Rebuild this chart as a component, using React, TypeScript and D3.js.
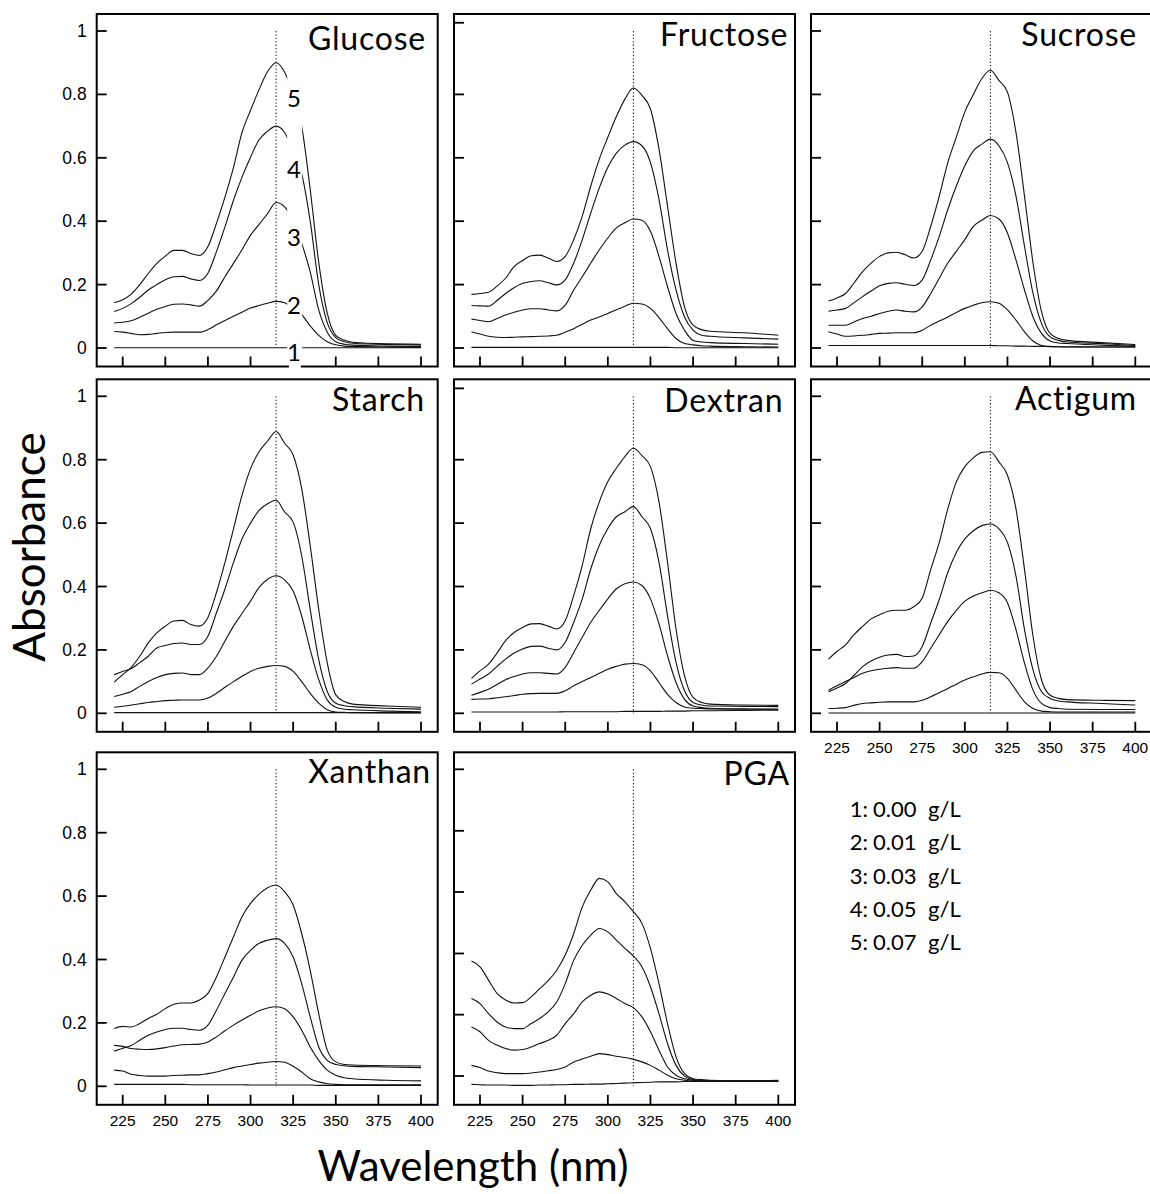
import React from 'react';
import * as d3 from 'd3';

// ---------- DATA ----------
const wavelengths = [220,225,230,235,240,245,250,255,260,265,270,275,280,285,290,295,300,305,310,315,320,325,330,335,340,345,350,355,360,380,400];

// Glucose
const g1 = [0.001,0.001,0.001,0.001,0.001,0.001, 0.001,0.001,0.001,0.001,0.001,0.001, 0.001,0.001,0.001,0.001,0.001,0.001, 0.001,0.001,0.001,0.001,0.001,0.001, 0.001,0.001,0.001,0.001,0.001, 0.001,0.001];
const g2 = [0.052,0.050,0.046,0.042,0.043,0.046, 0.049,0.050,0.050,0.050,0.050,0.058, 0.073,0.087,0.100,0.113,0.126,0.134, 0.141,0.147,0.143,0.125,0.105,0.070, 0.040,0.020,0.010,0.006,0.005, 0.003,0.002];
const g3 = [0.079,0.081,0.086,0.097,0.110,0.122, 0.131,0.138,0.139,0.136,0.132,0.150, 0.180,0.225,0.267,0.310,0.356,0.390, 0.424,0.459,0.445,0.400,0.330,0.240, 0.120,0.050,0.020,0.012,0.009, 0.006,0.005];
const g4 = [0.115,0.125,0.140,0.160,0.183,0.200, 0.215,0.225,0.226,0.218,0.213,0.236, 0.304,0.382,0.466,0.539,0.602,0.657, 0.684,0.700,0.680,0.620,0.550,0.400, 0.200,0.080,0.033,0.020,0.015, 0.011,0.010];
const g5 = [0.143,0.152,0.170,0.200,0.235,0.267, 0.290,0.308,0.308,0.298,0.292,0.320, 0.393,0.476,0.570,0.680,0.750,0.815, 0.872,0.900,0.870,0.800,0.700,0.500, 0.270,0.110,0.040,0.025,0.018, 0.013,0.012];

// Fructose
const f1 = [0.002,0.002,0.002,0.002,0.002,0.002, 0.002,0.002,0.002,0.002,0.002,0.002, 0.002,0.002,0.002,0.002,0.002,0.002, 0.002,0.002,0.002,0.002,0.002,0.002, 0.001,0.001,0.001,0.001,0.001, 0.001,0.001];
const f2 = [0.051,0.044,0.037,0.034,0.033,0.034, 0.035,0.036,0.037,0.038,0.040,0.050, 0.061,0.075,0.088,0.098,0.109,0.121, 0.132,0.141,0.139,0.125,0.096,0.061, 0.030,0.014,0.010,0.007,0.006, 0.004,0.003];
const f3 = [0.091,0.087,0.083,0.093,0.104,0.113, 0.120,0.124,0.124,0.120,0.117,0.135, 0.183,0.225,0.268,0.310,0.347,0.379, 0.395,0.407,0.403,0.368,0.289,0.194, 0.109,0.056,0.024,0.019,0.017, 0.014,0.012];
const f4 = [0.134,0.133,0.132,0.150,0.172,0.190, 0.204,0.210,0.212,0.206,0.199,0.215, 0.268,0.342,0.426,0.505,0.570,0.615, 0.640,0.651,0.638,0.585,0.469,0.310, 0.183,0.098,0.056,0.040,0.037, 0.032,0.028];
const f5 = [0.169,0.172,0.176,0.195,0.220,0.257, 0.276,0.291,0.293,0.284,0.273,0.289, 0.342,0.416,0.511,0.596,0.665,0.730, 0.785,0.820,0.797,0.754,0.628,0.448, 0.268,0.130,0.072,0.058,0.053, 0.048,0.040];

// Sucrose
const s1 = [0.008,0.008,0.008,0.008,0.008,0.008, 0.008,0.008,0.008,0.008,0.008,0.008, 0.008,0.008,0.008,0.008,0.008,0.008, 0.008,0.008,0.007,0.007,0.006,0.006, 0.005,0.005,0.004,0.004,0.004, 0.003,0.003];
const s2 = [0.051,0.044,0.037,0.038,0.040,0.043, 0.046,0.047,0.048,0.048,0.048,0.056, 0.072,0.085,0.098,0.112,0.125,0.135, 0.143,0.146,0.141,0.120,0.088,0.051, 0.022,0.008,0.005,0.004,0.003, 0.003,0.003];
const s3 = [0.072,0.072,0.072,0.082,0.093,0.100, 0.109,0.116,0.120,0.116,0.114,0.130, 0.172,0.220,0.268,0.305,0.342,0.384, 0.403,0.418,0.407,0.363,0.278,0.183, 0.098,0.046,0.022,0.016,0.014, 0.009,0.005];
const s4 = [0.116,0.120,0.125,0.143,0.162,0.180, 0.196,0.204,0.206,0.201,0.197,0.215, 0.278,0.352,0.437,0.511,0.575,0.622, 0.643,0.659,0.638,0.585,0.479,0.321, 0.172,0.077,0.035,0.024,0.019, 0.014,0.008];
const s5 = [0.148,0.158,0.172,0.205,0.241,0.268, 0.289,0.300,0.302,0.294,0.284,0.305, 0.384,0.479,0.585,0.665,0.745,0.800, 0.850,0.876,0.844,0.807,0.680,0.479, 0.268,0.114,0.046,0.030,0.024, 0.017,0.011];

// Starch
const st1 = [0.002,0.002,0.002,0.002,0.002,0.002, 0.002,0.002,0.002,0.002,0.002,0.002, 0.002,0.002,0.002,0.002,0.002,0.002, 0.002,0.002,0.002,0.002,0.002,0.002, 0.002,0.002,0.002,0.002,0.002, 0.002,0.002];
const st2 = [0.019,0.022,0.026,0.030,0.034,0.037, 0.040,0.041,0.042,0.042,0.042,0.048, 0.063,0.082,0.100,0.117,0.132,0.142, 0.148,0.151,0.148,0.132,0.100,0.063, 0.032,0.011,0.004,0.003,0.002, 0.001,0.001];
const st3 = [0.053,0.060,0.069,0.085,0.100,0.113, 0.122,0.126,0.127,0.122,0.122,0.143, 0.180,0.228,0.275,0.315,0.354,0.397, 0.423,0.434,0.421,0.386,0.307,0.201, 0.106,0.042,0.019,0.013,0.011, 0.007,0.005];
const st4 = [0.122,0.132,0.141,0.160,0.180,0.206, 0.214,0.220,0.222,0.217,0.217,0.243, 0.317,0.392,0.476,0.550,0.600,0.640, 0.661,0.672,0.635,0.603,0.497,0.328, 0.169,0.069,0.032,0.024,0.021, 0.016,0.013];
const st5 = [0.098,0.122,0.145,0.180,0.222,0.254, 0.275,0.291,0.293,0.280,0.275,0.302, 0.381,0.476,0.582,0.688,0.772,0.825, 0.859,0.889,0.852,0.815,0.709,0.529, 0.328,0.159,0.058,0.037,0.029, 0.023,0.019];

// Dextran
const d1 = [0.004,0.004,0.004,0.004,0.004,0.004, 0.004,0.004,0.004,0.004,0.004,0.005, 0.005,0.005,0.005,0.005,0.005,0.005, 0.006,0.006,0.006,0.006,0.006,0.007, 0.007,0.007,0.008,0.008,0.008, 0.009,0.010];
const d2 = [0.044,0.045,0.046,0.049,0.052,0.056, 0.060,0.062,0.063,0.063,0.063,0.071, 0.087,0.100,0.113,0.126,0.139,0.148, 0.155,0.157,0.153,0.134,0.097,0.060, 0.034,0.020,0.016,0.015,0.014, 0.013,0.013];
const d3v = [0.057,0.066,0.076,0.091,0.106,0.116, 0.124,0.128,0.128,0.126,0.124,0.145, 0.192,0.240,0.287,0.325,0.361,0.393, 0.409,0.414,0.403,0.361,0.282,0.182, 0.097,0.044,0.023,0.018,0.016, 0.014,0.013];
const d4 = [0.092,0.108,0.124,0.148,0.171,0.190, 0.203,0.211,0.212,0.205,0.200,0.224, 0.287,0.361,0.456,0.530,0.583,0.620, 0.636,0.652,0.620,0.583,0.477,0.308, 0.161,0.071,0.034,0.026,0.023, 0.022,0.021];
const d5 = [0.110,0.134,0.155,0.190,0.229,0.255, 0.271,0.282,0.283,0.275,0.266,0.292, 0.372,0.467,0.583,0.667,0.731,0.773, 0.810,0.836,0.813,0.778,0.667,0.477, 0.266,0.118,0.050,0.034,0.029, 0.026,0.025];

// Actigum
const a1 = [0.001,0.001,0.001,0.001,0.001,0.001, 0.001,0.001,0.001,0.001,0.001,0.001, 0.001,0.001,0.001,0.001,0.001,0.001, 0.001,0.001,0.001,0.001,0.001,0.001, 0.001,0.001,0.001,0.001,0.001, 0.001,0.001];
const a2 = [0.015,0.016,0.018,0.025,0.031,0.033, 0.035,0.036,0.036,0.036,0.036,0.041, 0.052,0.065,0.078,0.092,0.105,0.115, 0.124,0.129,0.128,0.110,0.073,0.036, 0.015,0.007,0.005,0.004,0.004, 0.004,0.004];
const a3 = [0.073,0.087,0.100,0.113,0.126,0.134, 0.139,0.142,0.144,0.142,0.142,0.163, 0.205,0.248,0.290,0.325,0.354,0.370, 0.380,0.388,0.380,0.349,0.264,0.158, 0.073,0.031,0.018,0.015,0.013, 0.012,0.012];
const a4 = [0.068,0.080,0.094,0.120,0.147,0.165, 0.177,0.184,0.186,0.179,0.181,0.211, 0.285,0.359,0.444,0.507,0.550,0.576, 0.592,0.597,0.582,0.539,0.433,0.264, 0.137,0.068,0.047,0.039,0.036, 0.031,0.026];
const a5 = [0.171,0.195,0.216,0.248,0.274,0.298, 0.311,0.322,0.325,0.325,0.336,0.364, 0.454,0.539,0.645,0.730,0.778,0.806, 0.823,0.825,0.793,0.751,0.645,0.454, 0.243,0.105,0.057,0.047,0.043, 0.041,0.040];

// Xanthan
const x1 = [0.006,0.006,0.006,0.006,0.006,0.006, 0.006,0.006,0.006,0.005,0.005,0.005, 0.005,0.005,0.005,0.005,0.004,0.004, 0.004,0.004,0.004,0.004,0.004,0.004, 0.003,0.003,0.003,0.003,0.003, 0.003,0.003];
const x2 = [0.051,0.048,0.038,0.034,0.032,0.032, 0.032,0.034,0.035,0.036,0.036,0.040, 0.045,0.052,0.059,0.064,0.069,0.073, 0.076,0.078,0.076,0.063,0.045,0.024, 0.014,0.008,0.006,0.005,0.005, 0.005,0.005];
const x3 = [0.129,0.126,0.119,0.117,0.116,0.118, 0.122,0.127,0.131,0.132,0.133,0.140, 0.156,0.175,0.193,0.209,0.224,0.238, 0.247,0.251,0.245,0.219,0.177,0.124, 0.082,0.051,0.035,0.027,0.024, 0.019,0.017];
const x4 = [0.111,0.120,0.129,0.145,0.161,0.171, 0.179,0.183,0.183,0.179,0.177,0.193, 0.240,0.293,0.345,0.398,0.429,0.451, 0.461,0.466,0.451,0.408,0.324,0.219, 0.124,0.082,0.069,0.065,0.063, 0.061,0.059];
const x5 = [0.182,0.189,0.187,0.198,0.214,0.227, 0.245,0.259,0.263,0.263,0.272,0.293, 0.345,0.408,0.472,0.535,0.577,0.606, 0.626,0.635,0.614,0.572,0.482,0.366, 0.229,0.114,0.077,0.069,0.067, 0.065,0.064];

// PGA
const p1 = [0.006,0.005,0.004,0.004,0.004,0.003, 0.003,0.003,0.004,0.004,0.005,0.005, 0.006,0.006,0.007,0.007,0.008,0.009, 0.010,0.011,0.012,0.013,0.014,0.014, 0.014,0.015,0.015,0.016,0.016, 0.016,0.016];
const p2 = [0.066,0.059,0.048,0.043,0.040,0.040, 0.040,0.042,0.045,0.049,0.053,0.061, 0.077,0.086,0.095,0.103,0.100,0.095, 0.091,0.085,0.077,0.066,0.051,0.035, 0.024,0.019,0.017,0.017,0.017, 0.017,0.017];
const p3 = [0.187,0.172,0.145,0.130,0.119,0.114, 0.116,0.124,0.135,0.145,0.161,0.198, 0.229,0.266,0.287,0.298,0.291,0.277, 0.261,0.248,0.219,0.172,0.114,0.061, 0.035,0.024,0.019,0.017,0.016, 0.016,0.016];
const p4 = [0.277,0.261,0.229,0.203,0.187,0.182, 0.182,0.198,0.214,0.235,0.266,0.324, 0.398,0.445,0.477,0.498,0.487,0.461, 0.435,0.411,0.377,0.314,0.229,0.135, 0.066,0.032,0.021,0.018,0.017, 0.016,0.016];
const p5 = [0.395,0.377,0.335,0.293,0.272,0.263, 0.264,0.282,0.308,0.333,0.366,0.414, 0.482,0.566,0.619,0.656,0.645,0.608, 0.582,0.551,0.514,0.435,0.324,0.198, 0.093,0.040,0.024,0.021,0.019, 0.017,0.019];

const panelNames = ['Glucose', 'Fructose', 'Sucrose', 'Starch', 'Dextran', 'Actigum', 'Xanthan', 'PGA'];
const panelSeries = [
  [g1, g2, g3, g4, g5],
  [f1, f2, f3, f4, f5],
  [s1, s2, s3, s4, s5],
  [st1, st2, st3, st4, st5],
  [d1, d2, d3v, d4, d5],
  [a1, a2, a3, a4, a5],
  [x1, x2, x3, x4, x5],
  [p1, p2, p3, p4, p5],
];

const xTicks = [225, 250, 275, 300, 325, 350, 375, 400];
const yTicks = [0, 0.2, 0.4, 0.6, 0.8, 1];
const yTickLabels = ['0', '0.2', '0.4', '0.6', '0.8', '1'];
// unlabeled tick marks of the middle column, as drawn in the source
const yTickMarks: Record<string, number[]> = {
  Fructose: [0, 0.2, 0.4, 0.6, 0.8, 1.026],
  Dextran: [0, 0.2, 0.4, 0.6, 0.8, 1.025],
  PGA: [0.0325, 0.226, 0.419, 0.613, 0.806, 1.0],
};
const peakWavelength = 315;

const curveLabels = ['1', '2', '3', '4', '5'];
const curveLabelLevels = [-0.012, 0.136, 0.353, 0.567, 0.79];
const curveLabelWavelength = 325.5;

const legendNumbers = ['1:', '2:', '3:', '4:', '5:'];
const legendValues = ['0.00', '0.01', '0.03', '0.05', '0.07'];
const legendUnit = 'g/L';

// ---------- LAYOUT ----------
const W = 1150, H = 1194;
const colLeft = [96.7, 454, 811];
const rowTop = [14, 379.3, 752.3];
const PW = 341, PH = 352.5;
const titleInset = [11.7, 6.7, 15, 12.7, 11.7, 15, 6.7, 5];
const titleBase = [36, 32, 31.7, 31.4, 32.4, 30.7, 30.4, 32.7];

const titleFont = 'Lato, "Open Sans", sans-serif';
const tickFont = '"Liberation Sans", Arial, sans-serif';

function Panel({ idx }: { idx: number }) {
  const name = panelNames[idx];
  const col = idx % 3;
  const row = Math.floor(idx / 3);
  const left = colLeft[col];
  const top = rowTop[row];
  const bottom = top + PH;
  const right = left + PW;
  // tick labels of a panel that has another panel beneath it are mostly hidden
  const hasPanelBelow = idx + 3 < panelNames.length;
  const clipId = `lblclip-${idx}`;

  const x = d3.scaleLinear().domain([225, 400]).range([left + 26, left + 324.3]);
  const y = d3.scaleLinear().domain([0, 1]).range([top + 334, top + 17]);

  const line = d3
    .line<number>()
    .x((_, i) => x(wavelengths[i]))
    .y((d) => y(d))
    .curve(d3.curveMonotoneX);

  const marks = yTickMarks[name] || yTicks;

  return (
    <g>
      <defs>
        <clipPath id={clipId}>
          <rect x={left - 5} y={bottom} width={PW + 10} height={hasPanelBelow ? 9.5 : 40} />
        </clipPath>
      </defs>
      <rect x={left - 1} y={top - 9} width={PW + 2} height={PH + 10} fill="#fff" />
      {panelSeries[idx].map((s, k) => (
        <path key={k} d={line(s) || ''} fill="none" stroke="#111" strokeWidth={1.1} />
      ))}
      <line
        x1={x(peakWavelength)}
        x2={x(peakWavelength)}
        y1={y(1)}
        y2={y(0)}
        stroke="#222"
        strokeWidth={1.1}
        strokeDasharray="1.3,2.1"
      />
      {name === 'Glucose' && (
        <g>
          <rect
            x={x(321.5)}
            y={y(0.88)}
            width={x(330.3) - x(321.5)}
            height={bottom + 1.5 - y(0.88)}
            fill="#fff"
          />
          {curveLabels.map((t, k) => (
            <text
              key={t}
              x={x(curveLabelWavelength)}
              y={y(curveLabelLevels[k])}
              textAnchor="middle"
              dominantBaseline="central"
              fontFamily={titleFont}
              fontSize={24}
              fill="#000"
            >
              {t}
            </text>
          ))}
        </g>
      )}
      <text
        x={right - titleInset[idx]}
        y={top + titleBase[idx]}
        textAnchor="end"
        fontFamily={titleFont}
        fontSize={32}
        letterSpacing={0.8}
        fill="#000"
      >
        {name}
      </text>
      {xTicks.map((t) =>
        name === 'Glucose' && t === 325 ? null : (
          <line key={t} x1={x(t)} x2={x(t)} y1={bottom} y2={bottom - 10} stroke="#000" strokeWidth={1.8} />
        )
      )}
      {marks.map((t, k) => (
        <line key={k} x1={left} x2={left + 10} y1={y(t)} y2={y(t)} stroke="#000" strokeWidth={1.8} />
      ))}
      <rect x={left} y={top} width={PW} height={PH} fill="none" stroke="#000" strokeWidth={2} />
      {name === 'Glucose' && (
        <rect x={x(322.5)} y={bottom - 2} width={x(329.5) - x(322.5)} height={4} fill="#fff" />
      )}
      {row > 0 && (
        <g clipPath={`url(#${clipId})`}>
          {xTicks.map((t) => (
            <text
              key={t}
              x={x(t)}
              y={bottom + 21.5}
              textAnchor="middle"
              fontFamily={tickFont}
              fontSize={15.5}
              fill="#000"
            >
              {t}
            </text>
          ))}
        </g>
      )}
      {col === 0 &&
        yTicks.map((t, k) => (
          <text
            key={t}
            x={left - 10}
            y={y(t)}
            textAnchor="end"
            dominantBaseline="central"
            fontFamily={tickFont}
            fontSize={17.5}
            fill="#000"
          >
            {yTickLabels[k]}
          </text>
        ))}
    </g>
  );
}

export default function App() {
  const legendTop = 817;
  const legendStep = 33.3;
  return (
    <svg
      width={W}
      height={H}
      viewBox={`0 0 ${W} ${H}`}
      style={{ position: 'absolute', left: 0, top: 0, display: 'block' }}
    >
      <rect x={0} y={0} width={W} height={H} fill="#fff" />
      {panelNames.map((_, i) => (
        <Panel key={i} idx={i} />
      ))}
      <text
        transform="translate(45,547) rotate(-90)"
        textAnchor="middle"
        fontFamily={titleFont}
        fontSize={44}
        fill="#000"
      >
        Absorbance
      </text>
      <text x={473} y={1181} textAnchor="middle" fontFamily={titleFont} fontSize={42} fill="#000">
        Wavelength (nm)
      </text>
      {legendNumbers.map((n, i) => (
        <g key={n}>
          <text x={868} y={legendTop + i * legendStep} textAnchor="end" fontFamily={titleFont} fontSize={22} fill="#000">
            {n}
          </text>
          <text x={873} y={legendTop + i * legendStep} fontFamily={titleFont} fontSize={22} fill="#000">
            {legendValues[i]}
          </text>
          <text x={928} y={legendTop + i * legendStep} fontFamily={titleFont} fontSize={22} fill="#000">
            {legendUnit}
          </text>
        </g>
      ))}
    </svg>
  );
}
